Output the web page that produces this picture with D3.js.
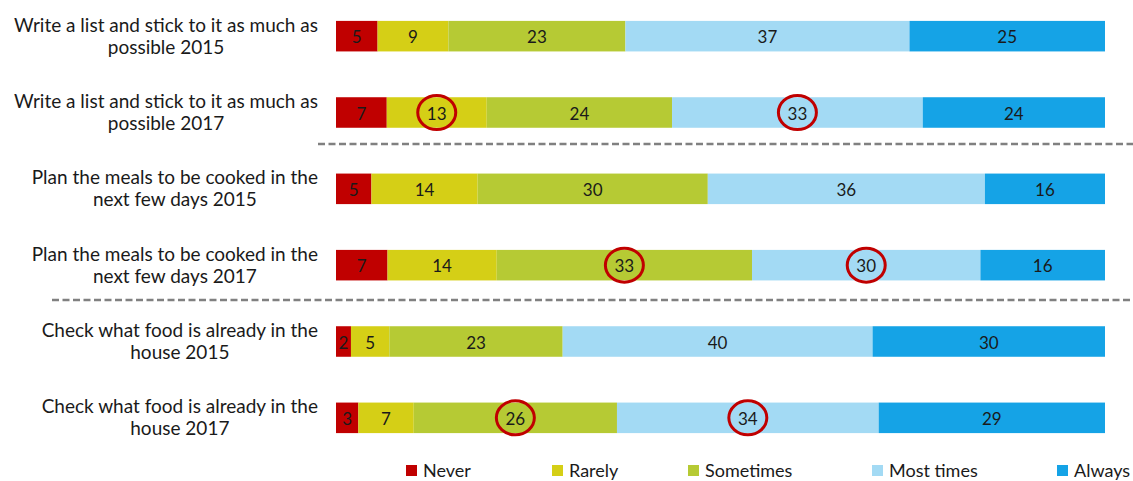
<!DOCTYPE html>
<html>
<head>
<meta charset="utf-8">
<script src="https://cdn.jsdelivr.net/npm/d3@7"></script>
<style>
  html, body { margin: 0; padding: 0; background: #ffffff; }
  svg { display: block; }
  text { font-family: Lato, "Open Sans", sans-serif; fill: #1a1a1a; }
</style>
</head>
<body>
<svg id="chart" width="1133" height="481"></svg>
<script>
// ---- data ----
const categories = [
  "Write a list and stick to it as much as possible 2015",
  "Write a list and stick to it as much as possible 2017",
  "Plan the meals to be cooked in the next few days 2015",
  "Plan the meals to be cooked in the next few days 2017",
  "Check what food is already in the house 2015",
  "Check what food is already in the house 2017"
];
const categoryLines = [
  ["Write a list and stick to it as much as", "possible 2015"],
  ["Write a list and stick to it as much as", "possible 2017"],
  ["Plan the meals to be cooked in the", "next few days 2015"],
  ["Plan the meals to be cooked in the", "next few days 2017"],
  ["Check what food is already in the", "house 2015"],
  ["Check what food is already in the", "house 2017"]
];
const seriesNames = ["Never", "Rarely", "Sometimes", "Most times", "Always"];
const never     = [5.4, 6.6, 4.6, 6.7, 1.95, 2.9];
const rarely    = [9.2, 13.0, 13.8, 14.2, 5.0, 7.2];
const sometimes = [23.0, 24.1, 29.9, 33.2, 22.6, 26.4];
const mostTimes = [36.9, 32.6, 36.0, 29.7, 40.4, 34.0];
const always    = [25.4, 23.7, 15.6, 16.2, 30.3, 29.4];
// circled values: [category index, series name]
const highlighted = [
  [1, "Rarely"], [1, "Most times"],
  [3, "Sometimes"], [3, "Most times"],
  [5, "Sometimes"], [5, "Most times"]
];
// dashed separators come after these category indices
const separatorsAfter = [1, 3];

// ---- build table ----
const seriesArrays = [never, rarely, sometimes, mostTimes, always];
const table = categories.map((c, i) => {
  const row = { category: c, index: i };
  seriesNames.forEach((s, j) => { row[s] = seriesArrays[j][i]; });
  return row;
});

const colors = d3.scaleOrdinal()
  .domain(seriesNames)
  .range(["#c00000", "#d5cf16", "#b6ca34", "#a3daf4", "#15a3e6"]);

const svg = d3.select("#chart");

const x = d3.scaleLinear().domain([0, 1]).range([336, 1105]);
const y = d3.scaleBand().domain(categories).range([-2, 456])
  .paddingInner(0.6).paddingOuter(0.3);

const stack = d3.stack().keys(seriesNames).offset(d3.stackOffsetExpand);
const stacked = stack(table);

// separators
const sepStart = [318, 52];
const sepY = [144, 300];
separatorsAfter.forEach((k, i) => {
  svg.append("line")
    .attr("x1", sepStart[i]).attr("x2", 1133)
    .attr("y1", sepY[i]).attr("y2", sepY[i])
    .attr("stroke", "#808080")
    .attr("stroke-width", 2.5)
    .attr("stroke-dasharray", "7,3.5");
});

// bars
const layers = svg.append("g").selectAll("g")
  .data(stacked).join("g")
  .attr("fill", d => colors(d.key));

layers.selectAll("rect")
  .data(d => d.map(v => Object.assign(v, { key: d.key })))
  .join("rect")
  .attr("x", d => x(d[0]))
  .attr("width", d => x(d[1]) - x(d[0]))
  .attr("y", d => y(d.data.category))
  .attr("height", y.bandwidth());

// value labels
const labelG = svg.append("g");
stacked.forEach(layer => {
  layer.forEach(d => {
    const cx = (x(d[0]) + x(d[1])) / 2;
    const cy = y(d.data.category) + y.bandwidth() / 2;
    labelG.append("text")
      .attr("x", cx)
      .attr("y", cy + 7)
      .attr("text-anchor", "middle")
      .style("font-size", "17px")
      .text(Math.round(d.data[layer.key]));
  });
});

// highlight ellipses
highlighted.forEach(([ci, key]) => {
  const layer = stacked.find(l => l.key === key);
  const d = layer[ci];
  const cx = (x(d[0]) + x(d[1])) / 2;
  const cy = y(d.data.category) + y.bandwidth() / 2;
  svg.append("ellipse")
    .attr("cx", cx).attr("cy", cy)
    .attr("rx", 19).attr("ry", 17)
    .attr("fill", "none")
    .attr("stroke", "#c00000")
    .attr("stroke-width", 3);
});

// category labels (block right-aligned, lines centered)
const catG = svg.append("g");
categories.forEach((c, i) => {
  const cy = y(c) + y.bandwidth() / 2;
  const g = catG.append("g");
  const lines = categoryLines[i];
  const texts = lines.map((ln, j) => g.append("text")
    .attr("y", cy + (j === 0 ? -4.5 : 17.5))
    .attr("text-anchor", "middle")
    .style("font-size", "19px")
    .text(ln));
  const maxW = d3.max(texts, t => t.node().getComputedTextLength());
  const center = 318 - maxW / 2;
  texts.forEach(t => t.attr("x", center));
});

// legend
const legendX = [406, 552, 688, 872, 1057];
const legend = svg.append("g");
seriesNames.forEach((s, i) => {
  legend.append("rect")
    .attr("x", legendX[i]).attr("y", 465)
    .attr("width", 11).attr("height", 11)
    .attr("fill", colors(s));
  legend.append("text")
    .attr("x", legendX[i] + 17).attr("y", 476.5)
    .style("font-size", "18px")
    .text(s);
});
</script>
</body>
</html>
